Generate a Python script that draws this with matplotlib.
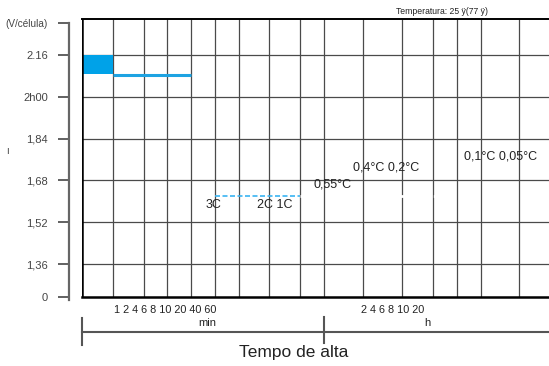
import numpy as np
import matplotlib
matplotlib.use('Agg')
from matplotlib import pyplot as plt
from matplotlib.transforms import blended_transform_factory

plt.rcParams['font.family'] = ['Liberation Sans', 'DejaVu Sans']

# grid / axis structure (x in arbitrary time units, y in V/cell)
grid_x = [0, 31, 62, 85, 109, 133, 157, 187, 218, 242, 281, 320, 351, 375, 399, 437]
x_max = 467
y_levels = [2.16, 2.00, 1.84, 1.68, 1.52, 1.36]
y_bottom = 1.2337
y_top = 2.298
y_unit_pos = 2.2825
y_tick_vals = [y_unit_pos] + y_levels + [y_bottom]
y_tick_labels = ['(V/célula)', '2.16', '2h00', '1,84', '1,68', '1,52', '1,36', '0']

# discharge curves that survive in the picture
block_x = [0, 31]
block_lo, block_hi = 2.087, 2.16
line1_x = [31, 109]
line1_y = [2.083, 2.083]
line3c_x = [133, 218]
line3c_y = [1.620, 1.620]
gap_x = [218, 465]

# curve labels
rate_labels = ['3C', '2C 1C', '0,55°C', '0,4°C 0,2°C', '0,1°C 0,05°C']
rate_x = [132, 193, 251, 304, 419]
rate_y = [1.586, 1.586, 1.666, 1.731, 1.773]

fig = plt.figure(figsize=(5.49, 3.66), dpi=100)
ax = fig.add_axes([82/549, 69/366, 467/549, 278/366])
ax.set_xlim(0, x_max)
ax.set_ylim(y_bottom, y_top)

for gx in grid_x[1:]:
    ax.axvline(gx, color='#4a4a4a', lw=0.9, zorder=1)
for gy in y_levels:
    ax.axhline(gy, color='#4a4a4a', lw=0.9, zorder=1)

ax.fill_between(block_x, block_lo, block_hi, color='#00a2e8', lw=0, zorder=3)
ax.plot(line1_x, line1_y, color='#1ea3e2', lw=2.2, solid_capstyle='butt', zorder=3)
ax.plot(line3c_x, line3c_y, color='#3ab4f2', lw=1.2, dashes=(3, 1.5), zorder=3)
ax.plot(gap_x, line3c_y, color='white', lw=2.0, dashes=(3, 9), zorder=2)

for t, x, y in zip(rate_labels, rate_x, rate_y):
    ax.text(x, y, t, ha='center', va='center', fontsize=9, color='#222222', zorder=4)

# spines
ax.spines['right'].set_visible(False)
ax.spines['top'].set_linewidth(1.4)
ax.spines['bottom'].set_linewidth(1.8)
ax.spines['left'].set_visible(False)
ax.axvline(0, color='black', lw=1.8, zorder=5)

# the offset voltage scale on the left
ax2 = ax.twinx()
ax2.set_ylim(y_bottom, y_top)
ax2.yaxis.set_ticks_position('left')
ax2.yaxis.set_label_position('left')
ax2.spines['left'].set_position(('outward', 9.4))
ax2.spines['left'].set_bounds(y_bottom - 0.01, y_unit_pos)
ax2.spines['left'].set_color('#666666')
ax2.spines['left'].set_linewidth(1.6)
for s in ['right', 'top', 'bottom']:
    ax2.spines[s].set_visible(False)
ax2.set_yticks(y_tick_vals)
ax2.set_yticklabels(y_tick_labels)
ax2.tick_params(axis='y', length=8, width=1.3, color='#555555', pad=7,
                labelsize=8, labelcolor='#444444')
ax2.get_yticklabels()[0].set_fontsize(7.2)
ax.set_xticks([])
ax.set_yticks([])

# time scale labels under the plot
tb = blended_transform_factory(ax.transData, fig.transFigure)
def fy(p):
    return 1 - p / 366

ax.text(83, fy(310), '1 2 4 6 8 10 20 40 60', transform=tb, ha='center', va='center',
        fontsize=7.8, color='#222222')
ax.text(125, fy(323), 'min', transform=tb, ha='center', va='center', fontsize=8, color='#222222')
ax.text(311, fy(310), '2 4 6 8 10 20', transform=tb, ha='center', va='center',
        fontsize=7.8, color='#222222')
ax.text(345, fy(323), 'h', transform=tb, ha='center', va='center', fontsize=8, color='#222222')
ax.plot([0, x_max], [fy(332), fy(332)], transform=tb, color='#555555', lw=1.5, clip_on=False)
ax.plot([0, 0], [fy(318), fy(345)], transform=tb, color='#555555', lw=1.5, clip_on=False)
ax.plot([242, 242], [fy(317), fy(343)], transform=tb, color='#555555', lw=1.5, clip_on=False)
ax.text(212, fy(352), 'Tempo de alta', transform=tb, ha='center', va='center',
        fontsize=12.5, color='#222222')

ax.text(360, fy(12), 'Temperatura: 25 ÿ(77 ÿ)', transform=tb, ha='center', va='center',
        fontsize=6.2, color='#222222')
fig.text(7/549, fy(151), 'ı', ha='center', va='center', fontsize=7, color='#444444')

fig.savefig('out.png', dpi=100, facecolor='white')
